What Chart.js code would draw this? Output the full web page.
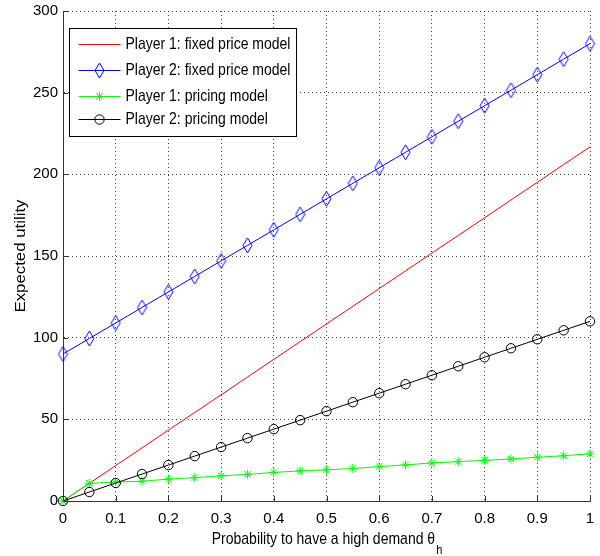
<!DOCTYPE html>
<html><head><meta charset="utf-8">
<script src="https://cdn.jsdelivr.net/npm/chart.js@4"></script>
<style>html,body{margin:0;padding:0;background:#fff}#wrap{width:600px;height:556px}</style>
</head><body><div id="wrap"><canvas id="c" width="600" height="556"></canvas></div>
<script>
const xValues   = [0, 0.05, 0.1, 0.15, 0.2, 0.25, 0.3, 0.35, 0.4, 0.45, 0.5, 0.55, 0.6, 0.65, 0.7, 0.75, 0.8, 0.85, 0.9, 0.95, 1];
const p1Fixed   = [0, 10.8, 21.7, 32.5, 43.4, 54.2, 65.0, 75.9, 86.7, 97.6, 108.4, 119.2, 130.1, 140.9, 151.8, 162.6, 173.4, 184.3, 195.1, 206.0, 216.8];
const p2Fixed   = [90, 99.5, 109, 118.5, 128, 137.5, 147, 156.5, 166, 175.5, 185, 194.5, 204, 213.5, 223, 232.5, 242, 251.5, 261, 270.5, 280];
const p1Pricing = [0, 10.8, 11.6, 12.1, 13.4, 14.3, 15.4, 16.3, 17.5, 18.4, 19.1, 19.9, 21.1, 22.1, 23.3, 24.1, 24.9, 25.7, 26.8, 27.7, 28.9];
const p2Pricing = [0, 5.5, 11, 16.5, 22, 27.5, 33, 38.5, 44, 49.5, 55, 60.5, 66, 71.5, 77, 82.5, 88, 93.5, 99, 104.5, 110];
const seriesLabels = ['Player 1: fixed price model', 'Player 2: fixed price model', 'Player 1: pricing model', 'Player 2: pricing model'];
const xTickLabels = ['0', '0.1', '0.2', '0.3', '0.4', '0.5', '0.6', '0.7', '0.8', '0.9', '1'];
const yTickLabels = ['0', '50', '100', '150', '200', '250', '300'];
const xTitle = 'Probability to have a high demand \u03b8';
const xTitleSub = 'h';
const yTitle = 'Expected utility';

const FONT = '"Liberation Sans", Arial, Helvetica, sans-serif';
const STRETCH = 1.2;

// tall diamond marker (MATLAB 'd')
function makeDiamond(color) {
  const c = document.createElement('canvas');
  c.width = 11; c.height = 17;
  const g = c.getContext('2d');
  g.strokeStyle = color; g.lineWidth = 1;
  g.beginPath();
  g.moveTo(5.5, 1); g.lineTo(10, 8.5); g.lineTo(5.5, 16); g.lineTo(1, 8.5); g.closePath();
  g.stroke();
  return c;
}
const diamond = makeDiamond('#0000ff');

function pts(arr) { return xValues.map((x, i) => ({x: x, y: arr[i]})); }

const datasets = [
  {label: seriesLabels[0], data: pts(p1Fixed), borderColor: '#ff0000', backgroundColor: '#ff0000', pointRadius: 0, pointStyle: false, order: 3},
  {label: seriesLabels[1], data: pts(p2Fixed), borderColor: '#0000ff', backgroundColor: 'rgba(0,0,0,0)', pointStyle: diamond, pointRadius: 5, order: 2},
  {label: seriesLabels[2], data: pts(p1Pricing), borderColor: '#00ff00', backgroundColor: 'rgba(0,0,0,0)', pointStyle: 'star', pointRadius: 4.5, pointBorderColor: '#00ff00', order: 1},
  {label: seriesLabels[3], data: pts(p2Pricing), borderColor: '#000000', backgroundColor: 'rgba(0,0,0,0)', pointStyle: 'circle', pointRadius: 4.7, order: 0}
].map(d => Object.assign({borderWidth: 1, pointBorderWidth: 1, tension: 0, clip: false, fill: false}, d));

const inwardTicks = {
  id: 'inwardTicks',
  afterDraw(chart) {
    const ctx = chart.ctx, a = chart.chartArea, xs = chart.scales.x, ys = chart.scales.y;
    ctx.save();
    ctx.strokeStyle = '#333'; ctx.lineWidth = 1;
    ctx.beginPath();
    xs.ticks.forEach(t => { const p = Math.round(xs.getPixelForValue(t.value)) + 0.5; ctx.moveTo(p, a.bottom); ctx.lineTo(p, a.bottom - 5); });
    ys.ticks.forEach(t => { const p = Math.round(ys.getPixelForValue(t.value)) + 0.5; ctx.moveTo(a.left, p); ctx.lineTo(a.left + 5, p); });
    ctx.stroke();
    ctx.restore();
  }
};

const titles = {
  id: 'titles',
  afterDraw(chart) {
    const ctx = chart.ctx, a = chart.chartArea;
    ctx.save();
    ctx.fillStyle = '#000';
    ctx.font = '14px ' + FONT;
    const w1 = ctx.measureText(xTitle).width;
    ctx.font = '11px ' + FONT;
    const w2 = ctx.measureText(xTitleSub).width;
    const cx = (a.left + a.right) / 2;
    ctx.save();
    ctx.translate(cx - (w1 + w2) / 2, 544);
    ctx.scale(1, STRETCH);
    ctx.textAlign = 'left'; ctx.textBaseline = 'alphabetic';
    ctx.font = '14px ' + FONT;
    ctx.fillText(xTitle, 0, 0);
    ctx.font = '11px ' + FONT;
    ctx.fillText(xTitleSub, w1 + 1, 8);
    ctx.restore();
    ctx.save();
    ctx.translate(21, (a.top + a.bottom) / 2);
    ctx.rotate(-Math.PI / 2);
    ctx.scale(STRETCH, 1);
    ctx.font = '14px ' + FONT;
    ctx.textAlign = 'center'; ctx.textBaseline = 'middle';
    ctx.fillText(yTitle, 0, 0);
    ctx.restore();
    ctx.restore();
  }
};

const boxLegend = {
  id: 'boxLegend',
  afterDraw(chart) {
    const ctx = chart.ctx, a = chart.chartArea;
    const bx = a.left + 6.5, by = a.top + 17.5, bw = 227, bh = 108;
    ctx.save();
    ctx.fillStyle = '#fff';
    ctx.fillRect(bx, by, bw, bh);
    ctx.strokeStyle = '#000'; ctx.lineWidth = 1;
    ctx.strokeRect(bx, by, bw, bh);
    const rows = [44, 70, 96, 119];
    chart.data.datasets.forEach((ds, i) => {
      const y = rows[i] + 0.5;
      const x1 = bx + 9, x2 = bx + 51, xm = (x1 + x2) / 2;
      ctx.strokeStyle = ds.borderColor; ctx.lineWidth = 1;
      ctx.beginPath(); ctx.moveTo(x1, y); ctx.lineTo(x2, y); ctx.stroke();
      if (ds.pointStyle instanceof HTMLCanvasElement) {
        ctx.drawImage(ds.pointStyle, xm - ds.pointStyle.width / 2, y - ds.pointStyle.height / 2);
      } else if (ds.pointStyle === 'circle') {
        ctx.beginPath(); ctx.arc(xm, y, ds.pointRadius, 0, Math.PI * 2); ctx.stroke();
      } else if (ds.pointStyle === 'star') {
        const r = ds.pointRadius;
        ctx.beginPath();
        ctx.moveTo(xm - r, y); ctx.lineTo(xm + r, y);
        ctx.moveTo(xm, y - r); ctx.lineTo(xm, y + r);
        const d = r * Math.SQRT1_2;
        ctx.moveTo(xm - d, y - d); ctx.lineTo(xm + d, y + d);
        ctx.moveTo(xm - d, y + d); ctx.lineTo(xm + d, y - d);
        ctx.stroke();
      }
      ctx.save();
      ctx.translate(bx + 56, y);
      ctx.scale(1, STRETCH);
      ctx.fillStyle = '#000';
      ctx.font = '14px ' + FONT;
      ctx.textAlign = 'left'; ctx.textBaseline = 'middle';
      ctx.fillText(ds.label, 0, 0);
      ctx.restore();
    });
    ctx.restore();
  }
};

new Chart(document.getElementById('c'), {
  type: 'line',
  data: {datasets: datasets},
  options: {
    responsive: false, animation: false, devicePixelRatio: 1,
    layout: {padding: {left: 0, right: 10, top: 11, bottom: 0}},
    plugins: {legend: {display: false}, tooltip: {enabled: false}},
    scales: {
      x: {
        type: 'linear', min: 0, max: 1,
        afterFit(s) { s.height = 55; },
        ticks: {stepSize: 0.1, padding: 5, color: '#000', font: {size: 15, family: FONT, lineHeight: 1.7}, maxRotation: 0,
          callback: (v, i) => xTickLabels[i]},
        grid: {color: 'rgba(0,0,0,0.75)', lineWidth: 1, drawTicks: false},
        border: {display: true, color: '#333', width: 1, dash: [1, 3]}
      },
      y: {
        type: 'linear', min: 0, max: 300,
        afterFit(s) { s.width = 63; },
        ticks: {stepSize: 50, padding: 5, color: '#000', font: {size: 15, family: FONT, lineHeight: 0.75},
          callback: (v, i) => yTickLabels[i]},
        grid: {color: 'rgba(0,0,0,0.75)', lineWidth: 1, drawTicks: false},
        border: {display: true, color: '#333', width: 1, dash: [1, 3]}
      }
    }
  },
  plugins: [inwardTicks, titles, boxLegend]
});
</script></body></html>
